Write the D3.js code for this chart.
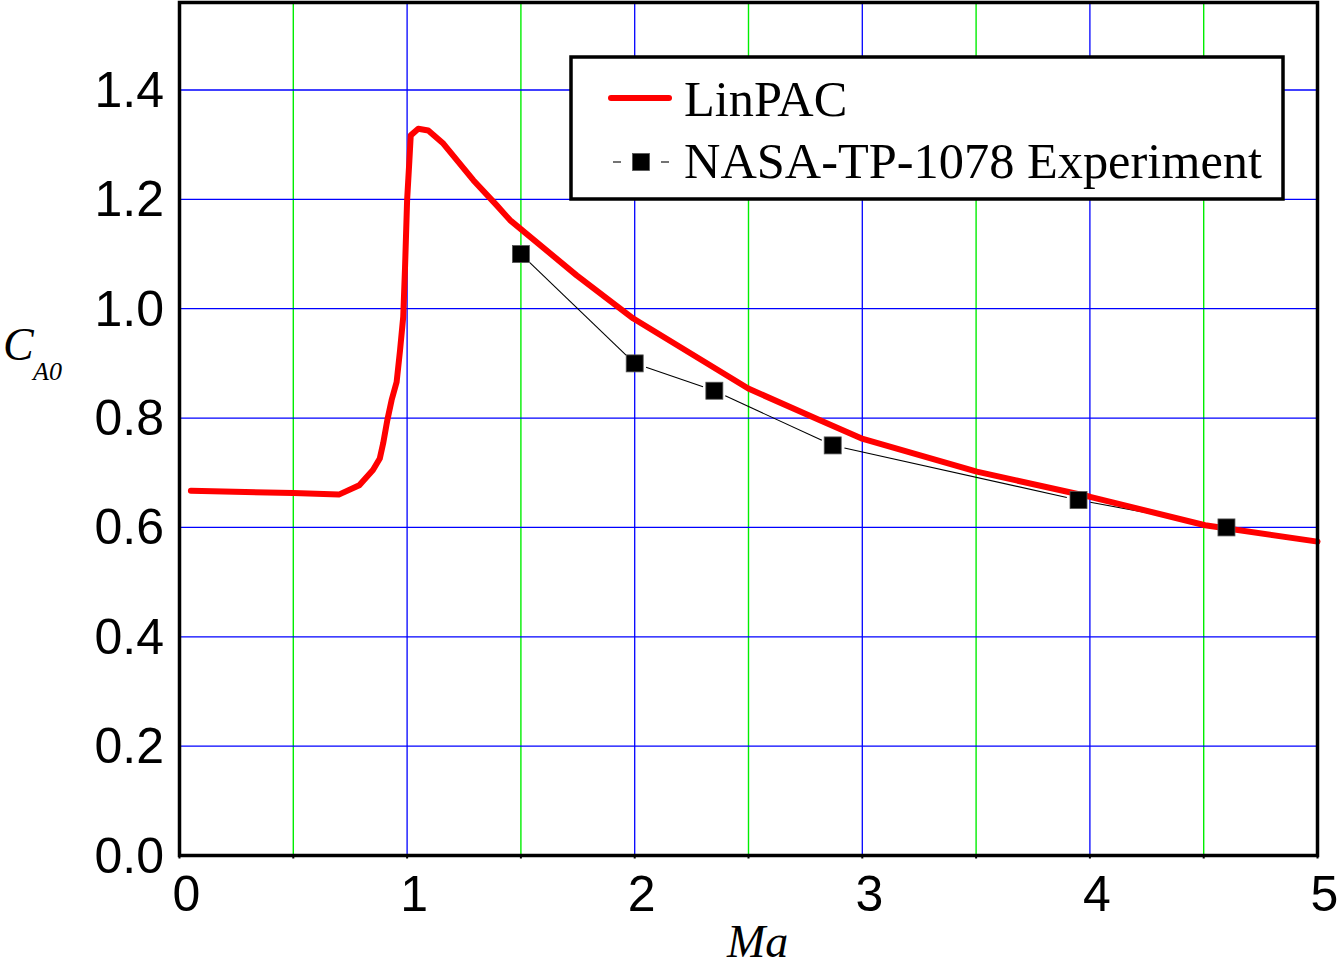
<!DOCTYPE html>
<html>
<head>
<meta charset="utf-8">
<script src="https://cdn.jsdelivr.net/npm/d3@7/dist/d3.min.js"></script>
<style>
  html, body { margin: 0; padding: 0; background: #fff; }
  svg { display: block; }
</style>
</head>
<body>
<svg id="chart" width="1338" height="967"></svg>
<script>
// LinPAC prediction of zero-lift axial force coefficient vs Mach number
const linpacMach = [0.05, 0.50, 0.70, 0.79, 0.85, 0.88, 0.895, 0.913, 0.932, 0.954, 0.969, 0.983, 0.991, 1.000, 1.010, 1.016, 1.049, 1.093, 1.159, 1.291, 1.394, 1.452, 1.745, 1.994, 2.499, 2.814, 2.995, 3.503, 4.001, 4.506, 5.000];
const linpacCA0  = [0.667, 0.663, 0.660, 0.677, 0.705, 0.726, 0.754, 0.796, 0.833, 0.866, 0.924, 0.985, 1.076, 1.198, 1.271, 1.317, 1.329, 1.326, 1.302, 1.235, 1.189, 1.162, 1.061, 0.982, 0.854, 0.796, 0.763, 0.702, 0.656, 0.604, 0.574];

// NASA-TP-1078 wind tunnel measurements
const expMach = [1.50, 2.00, 2.35, 2.87, 3.95, 4.60];
const expCA0  = [1.10, 0.90, 0.85, 0.75, 0.65, 0.60];

// Axis ticks
const xTicks = [0, 1, 2, 3, 4, 5];
const xGridMajor = [1, 2, 3, 4];
const xGridMinor = [0.5, 1.5, 2.5, 3.5, 4.5];
const yTicks = [0.0, 0.2, 0.4, 0.6, 0.8, 1.0, 1.2, 1.4];

const legendLabels = ["LinPAC", "NASA-TP-1078 Experiment"];

const svg = d3.select("#chart");
const plotL = 179.5, plotR = 1317.5, plotT = 2.5, plotB = 855.5;

const x = d3.scaleLinear().domain([0, 5]).range([plotL, plotR]);
const y = d3.scaleLinear().domain([0, 1.56]).range([plotB, plotT]);

// Grid lines
const grid = svg.append("g");
grid.selectAll("line.minor").data(xGridMinor).enter().append("line")
  .attr("x1", d => x(d)).attr("x2", d => x(d))
  .attr("y1", plotT).attr("y2", plotB)
  .attr("stroke", "#00ee00").attr("stroke-width", 1.4);
grid.selectAll("line.major").data(xGridMajor).enter().append("line")
  .attr("x1", d => x(d)).attr("x2", d => x(d))
  .attr("y1", plotT).attr("y2", plotB)
  .attr("stroke", "#0000ff").attr("stroke-width", 1.3);
grid.selectAll("line.h").data(yTicks.filter(d => d > 0)).enter().append("line")
  .attr("x1", plotL).attr("x2", plotR)
  .attr("y1", d => y(d)).attr("y2", d => y(d))
  .attr("stroke", "#0000ff").attr("stroke-width", 1.3);

// Experiment: thin connecting segments that stop short of each marker
const expPts = expMach.map((m, i) => [x(m), y(expCA0[i])]);
const gap = 12;
const conn = svg.append("g");
for (let i = 0; i < expPts.length - 1; i++) {
  const [x0, y0] = expPts[i], [x1, y1] = expPts[i + 1];
  const len = Math.hypot(x1 - x0, y1 - y0);
  const ux = (x1 - x0) / len, uy = (y1 - y0) / len;
  conn.append("line")
    .attr("x1", x0 + ux * gap).attr("y1", y0 + uy * gap)
    .attr("x2", x1 - ux * gap).attr("y2", y1 - uy * gap)
    .attr("stroke", "#000").attr("stroke-width", 1.1);
}

// LinPAC curve
const line = d3.line().x(d => x(d[0])).y(d => y(d[1]));
svg.append("path")
  .datum(linpacMach.map((m, i) => [m, linpacCA0[i]]))
  .attr("d", line)
  .attr("fill", "none")
  .attr("stroke", "#ff0000")
  .attr("stroke-width", 6)
  .attr("stroke-linejoin", "round")
  .attr("stroke-linecap", "round");

// Experiment markers
const ms = 17;
svg.append("g").selectAll("rect").data(expPts).enter().append("rect")
  .attr("x", d => d[0] - ms / 2).attr("y", d => d[1] - ms / 2)
  .attr("width", ms).attr("height", ms)
  .attr("fill", "#000").attr("stroke", "#555").attr("stroke-width", 0.8);

// Frame
svg.append("rect")
  .attr("x", plotL).attr("y", plotT)
  .attr("width", plotR - plotL).attr("height", plotB - plotT)
  .attr("fill", "none").attr("stroke", "#000").attr("stroke-width", 3.5);

// Small bottom ticks
svg.append("g").selectAll("line").data(d3.range(0, 5.01, 0.5)).enter().append("line")
  .attr("x1", d => x(d)).attr("x2", d => x(d))
  .attr("y1", plotB).attr("y2", plotB + 3)
  .attr("stroke", "#000").attr("stroke-width", 2);

// Tick labels
svg.append("g").selectAll("text").data(xTicks).enter().append("text")
  .attr("x", d => x(d) + 7).attr("y", 911)
  .attr("text-anchor", "middle")
  .attr("font-family", "'Liberation Sans', Arial, sans-serif")
  .attr("font-size", 50)
  .text(d => d3.format("d")(d));

svg.append("g").selectAll("text").data(yTicks).enter().append("text")
  .attr("x", 164).attr("y", d => y(d) + 17)
  .attr("text-anchor", "end")
  .attr("font-family", "'Liberation Sans', Arial, sans-serif")
  .attr("font-size", 50)
  .text(d => d3.format(".1f")(d));

// Axis titles
svg.append("text")
  .attr("x", 727).attr("y", 957)
  .attr("font-family", "'Liberation Serif', 'Times New Roman', serif")
  .attr("font-style", "italic")
  .attr("font-size", 46)
  .text("Ma");

const yt = svg.append("text")
  .attr("x", 3).attr("y", 360)
  .attr("font-family", "'Liberation Serif', 'Times New Roman', serif")
  .attr("font-style", "italic")
  .attr("font-size", 46);
yt.append("tspan").text("C");
yt.append("tspan").attr("x", 33).attr("y", 380).attr("font-size", 26).text("A0");

// Legend
const lg = svg.append("g");
lg.append("rect")
  .attr("x", 571).attr("y", 57).attr("width", 712).attr("height", 142)
  .attr("fill", "#fff").attr("stroke", "#000").attr("stroke-width", 3.5);
lg.append("line")
  .attr("x1", 611).attr("x2", 669).attr("y1", 98).attr("y2", 98)
  .attr("stroke", "#ff0000").attr("stroke-width", 6).attr("stroke-linecap", "round");
lg.append("line").attr("x1", 613).attr("x2", 621).attr("y1", 162).attr("y2", 162)
  .attr("stroke", "#000").attr("stroke-width", 1.1);
lg.append("line").attr("x1", 661).attr("x2", 669).attr("y1", 162).attr("y2", 162)
  .attr("stroke", "#000").attr("stroke-width", 1.1);
lg.append("rect")
  .attr("x", 641 - ms / 2).attr("y", 162 - ms / 2).attr("width", ms).attr("height", ms)
  .attr("fill", "#000").attr("stroke", "#555").attr("stroke-width", 0.8);
lg.selectAll("text").data(legendLabels).enter().append("text")
  .attr("x", 684).attr("y", (d, i) => i === 0 ? 116 : 178)
  .attr("font-family", "'Liberation Serif', 'Times New Roman', serif")
  .attr("font-size", 50.4)
  .text(d => d);
</script>
</body>
</html>
